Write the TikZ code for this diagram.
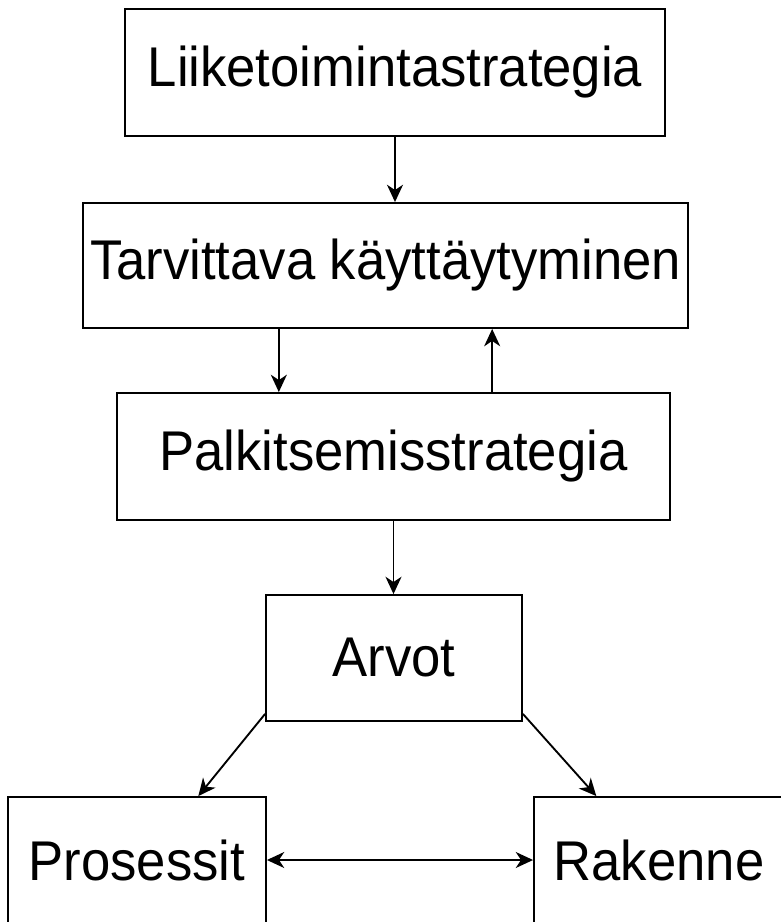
\documentclass[tikz,border=0pt]{standalone}
\usepackage{fontspec}
\setmainfont{Liberation Sans}[FakeStretch=0.94]
\usetikzlibrary{arrows.meta}

\begin{document}
\begin{tikzpicture}[x=0.75pt,y=-0.75pt,
    box/.style={draw, line width=1.4pt, inner sep=0pt, font=\fontsize{42}{50}\selectfont},
    arr/.style={line width=1.4pt, -{Stealth[length=13pt,width=12pt,inset=4pt]}}]
            \useasboundingbox (0,0) rectangle (781,922);

            % Boxes
            \node[box, minimum width=540*0.75pt, minimum height=127*0.75pt] (lts)  at (395,72.5)  {Liiketoimintastrategia};
            \node[box, minimum width=605*0.75pt, minimum height=125*0.75pt] (tk)   at (385.5,265.5) {Tarvittava käyttäytyminen};
            \node[box, minimum width=553*0.75pt, minimum height=127*0.75pt] (ps)   at (393.5,456.5) {Palkitsemisstrategia};
            \node[box, minimum width=256*0.75pt, minimum height=126*0.75pt] (arv)  at (394,658)   {Arvot};
            \node[box, minimum width=258*0.75pt, minimum height=126*0.75pt] (pros) at (137,860)   {Prosessit};
            \node[box, minimum width=250*0.75pt, minimum height=126*0.75pt] (rak)  at (659,860)   {Rakenne};

            % Arrows
            \draw[arr] (lts.south) -- (lts.south |- tk.north);
            \draw[arr] ([xshift=-80pt]tk.south) -- ([xshift=-80pt]tk.south |- ps.north);
            \draw[arr] ([xshift=80pt]tk.south |- ps.north) -- ([xshift=80pt]tk.south);
            \draw[arr] (ps.south) -- (ps.south |- arv.north);
            \draw[arr] ([yshift=6pt]arv.south west) -- ([xshift=46pt]pros.north);
            \draw[arr] ([yshift=6pt]arv.south east) -- ([xshift=-47pt]rak.north);
            \draw[arr, {Stealth[length=13pt,width=12pt,inset=4pt]}-{Stealth[length=13pt,width=12pt,inset=4pt]}] (pros.east) -- (rak.west);
        \end{tikzpicture}
\end{document}
